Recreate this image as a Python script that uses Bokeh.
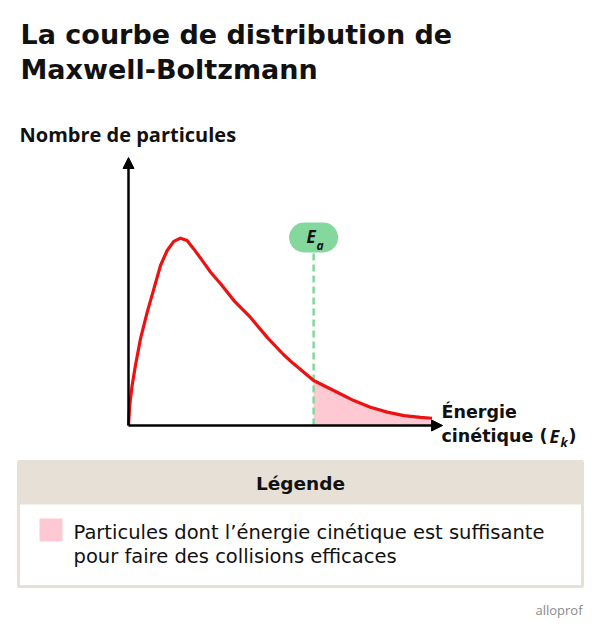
from bokeh.plotting import figure
from bokeh.models import Range1d, Label, Arrow, NormalHead, BoxAnnotation
from bokeh.embed import file_html
from bokeh.resources import INLINE

# ---- data (arbitrary units) ----
energy = [0, 0.04, 0.12, 0.23, 0.40, 0.62, 0.84, 1.06, 1.28, 1.50, 1.72, 1.94,
          2.16, 2.44, 2.72, 3.05, 3.49, 4.04, 4.60, 5.13, 5.46, 6.13, 6.91,
          7.46, 8.01, 8.57, 9.12, 9.67, 10.05]
count = [0, 0.75, 1.49, 2.24, 3.25, 4.23, 5.10, 5.97, 6.53, 6.87, 6.99, 6.90,
         6.59, 6.16, 5.72, 5.29, 4.66, 4.03, 3.28, 2.65, 2.31, 1.68, 1.24,
         0.93, 0.68, 0.50, 0.37, 0.30, 0.27]
EA = 6.13
X_AXIS_END = 10.4
Y_AXIS_END = 10.0

title_lines = ["La courbe de distribution de", "Maxwell-Boltzmann"]
y_label = "Nombre de particules"
legend_title = "Légende"
legend_lines = ["Particules dont l’énergie cinétique est suffisante",
                "pour faire des collisions efficaces"]

# ---- layout helpers (picture pixel -> data) ----
X0, SX = 128.0, 30.2
Y0, SY = 425.0, 26.8


def X(px):
    return (px - X0) / SX


def Y(py):
    return (Y0 - py) / SY


FONT = "Open Sans"
WIDE = "DejaVu Sans"
RED = "#ee1111"
PINK = "#ffc9d3"
GREEN = "#84d89e"
BEIGE = "#e7e0d7"

p = figure(width=584, height=619, x_range=Range1d(X(0), X(584)),
           y_range=Range1d(Y(619), Y(0)), output_backend="svg",
           toolbar_location=None, x_axis_location=None, y_axis_location=None,
           min_border=0)
p.outline_line_color = None
p.grid.visible = False
p.background_fill_color = "white"

# shaded area beyond Ea
sx = [e for e in energy if e >= EA]
sy = [c for e, c in zip(energy, count) if e >= EA]
p.varea(x=sx, y1=[0] * len(sx), y2=sy, fill_color=PINK)

# Ea dashed line
p.segment(x0=[EA], y0=[0], x1=[EA], y1=[Y(252)], line_color=GREEN,
          line_width=2.5, line_dash="7 4")

# curve
p.line(energy, count, line_color=RED, line_width=3.2, line_join="round")

# axes
p.add_layout(Arrow(end=NormalHead(size=11, fill_color="black", line_color="black"),
                   x_start=0, y_start=0, x_end=0, y_end=Y_AXIS_END,
                   line_width=2.5, line_color="black"))
p.add_layout(Arrow(end=NormalHead(size=11, fill_color="black", line_color="black"),
                   x_start=0, y_start=0, x_end=X_AXIS_END, y_end=0,
                   line_width=2.5, line_color="black"))

# Ea pill
p.add_layout(BoxAnnotation(left=EA - 24.5 / SX, right=EA + 24.5 / SX, top=Y(222),
                           bottom=Y(252), fill_color=GREEN, fill_alpha=1.0,
                           line_color=None, border_radius=15))


def lab(x, y, text, size, style="normal", color="#111111", align="left",
        font=FONT):
    p.add_layout(Label(x=x, y=y, text=text, text_font=font,
                       text_font_size=f"{size}px", text_font_style=style,
                       text_color=color, text_align=align,
                       text_baseline="middle"))


lab(X(306), Y(236), "E", 17, "bold italic")
lab(X(316), Y(245), "a", 12, "bold italic")

# title
lab(X(20), Y(33.5), title_lines[0], 27, "bold", font=WIDE)
lab(X(20), Y(68.5), title_lines[1], 27, "bold", font=WIDE)

# axis labels
lab(X(19), Y(134), y_label, 20, "bold")
lab(X(441), Y(411), "Énergie", 17.5, "bold", font=WIDE)
lab(X(441), Y(435), "cinétique (", 17.5, "bold", font=WIDE)
lab(X(549), Y(435), "E", 18, "bold italic")
lab(X(560), Y(442), "k", 12.5, "bold italic")
lab(X(568), Y(435), ")", 17.5, "bold", font=WIDE)

# legend box
p.quad(left=[X(18)], right=[X(582)], top=[Y(461)], bottom=[Y(586)],
       fill_color="white", line_color=BEIGE, line_width=3)
p.quad(left=[X(18)], right=[X(582)], top=[Y(461)], bottom=[Y(504)],
       fill_color=BEIGE, line_color=None)
p.quad(left=[X(39)], right=[X(62)], top=[Y(518)], bottom=[Y(541)],
       fill_color=PINK, line_color=None)
lab(X(300), Y(483), legend_title, 18.5, "bold", align="center", font=WIDE)
lab(X(73), Y(532), legend_lines[0], 19.5, font=WIDE)
lab(X(73), Y(556), legend_lines[1], 19.5, font=WIDE)

lab(X(582), Y(609), "alloprof", 13, color="#8a8a8a", align="right")

open("out.html", "w").write(file_html(p, INLINE))
